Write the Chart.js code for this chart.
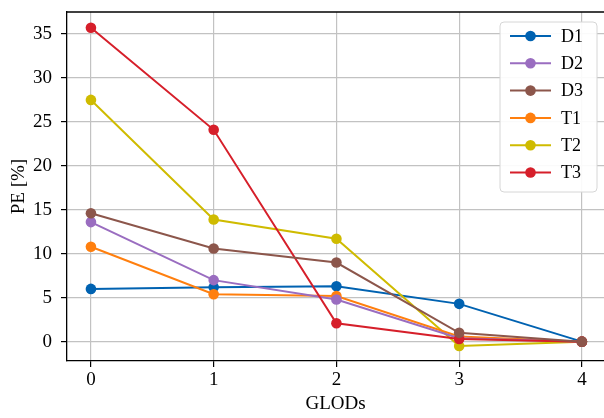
<!DOCTYPE html>
<html>
<head>
<meta charset="utf-8">
<script src="https://cdn.jsdelivr.net/npm/chart.js@4"></script>
<style>
  html, body { margin: 0; padding: 0; background: #fff; }
  #wrap { width: 604px; height: 418px; }
</style>
</head>
<body>
<div id="wrap"><canvas id="pe-chart" width="604" height="418"></canvas></div>
<script>
// GLOD count on the x axis
const glods = [0, 1, 2, 3, 4];

// PE [%] per series
const D1 = [6.0, 6.2, 6.3, 4.3, 0];
const D2 = [13.6, 7.0, 4.8, 0.4, 0];
const D3 = [14.6, 10.6, 9.0, 1.0, 0];
const T1 = [10.8, 5.4, 5.2, 0.6, 0];
const T2 = [27.5, 13.9, 11.7, -0.5, 0];
const T3 = [35.7, 24.1, 2.1, 0.3, 0];

const seriesNames = ['D1', 'D2', 'D3', 'T1', 'T2', 'T3'];
const seriesValues = [D1, D2, D3, T1, T2, T3];
const seriesColors = ['#0062b1', '#9a6dc0', '#8c564b', '#ff7f0e', '#cfbb00', '#d61f2a'];
// lower order is drawn on top
const seriesOrder = [5, 2, 0, 3, 4, 1];

const xTicks = [0, 1, 2, 3, 4];
const yTicks = [0, 5, 10, 15, 20, 25, 30, 35];

const FONT = "'Liberation Serif', 'Times New Roman', serif";

const datasets = seriesNames.map((name, i) => ({
  label: name,
  data: glods.map((g, j) => ({ x: g, y: seriesValues[i][j] })),
  borderColor: seriesColors[i],
  backgroundColor: seriesColors[i],
  borderWidth: 2,
  pointRadius: 5.3,
  pointHoverRadius: 5.3,
  pointBorderWidth: 0,
  order: seriesOrder[i],
  tension: 0
}));

// top spine + boxed legend with line-and-marker samples
const framePlugin = {
  id: 'frame',
  afterDraw(chart) {
    const ctx = chart.ctx;
    const area = chart.chartArea;
    ctx.save();
    ctx.strokeStyle = '#000';
    ctx.lineWidth = 1.3;
    ctx.beginPath();
    ctx.moveTo(area.left, area.top);
    ctx.lineTo(area.right, area.top);
    ctx.stroke();

    // legend box
    const bx = 500, by = 22, bw = 97, bh = 170, r = 4;
    ctx.beginPath();
    ctx.moveTo(bx + r, by);
    ctx.arcTo(bx + bw, by, bx + bw, by + bh, r);
    ctx.arcTo(bx + bw, by + bh, bx, by + bh, r);
    ctx.arcTo(bx, by + bh, bx, by, r);
    ctx.arcTo(bx, by, bx + bw, by, r);
    ctx.closePath();
    ctx.fillStyle = 'rgba(255,255,255,0.92)';
    ctx.fill();
    ctx.strokeStyle = '#d6d6d6';
    ctx.lineWidth = 1;
    ctx.stroke();

    chart.data.datasets.forEach((ds, i) => {
      const cy = 36 + i * 27.3;
      ctx.strokeStyle = ds.borderColor;
      ctx.lineWidth = 2;
      ctx.beginPath();
      ctx.moveTo(510, cy);
      ctx.lineTo(551, cy);
      ctx.stroke();
      ctx.fillStyle = ds.borderColor;
      ctx.beginPath();
      ctx.arc(530.5, cy, 5.3, 0, Math.PI * 2);
      ctx.fill();
      ctx.fillStyle = '#000';
      ctx.font = '18px ' + FONT;
      ctx.textAlign = 'left';
      ctx.textBaseline = 'middle';
      ctx.fillText(ds.label, 561, cy + 1);
    });
    ctx.restore();
  }
};

function noPad(s) {
  s.paddingTop = 0;
  s.paddingBottom = 0;
  s.paddingLeft = 0;
  s.paddingRight = 0;
}

const ctx = document.getElementById('pe-chart').getContext('2d');

new Chart(ctx, {
  type: 'line',
  data: { datasets: datasets },
  plugins: [framePlugin],
  options: {
    responsive: false,
    animation: false,
    events: [],
    layout: { autoPadding: false, padding: { top: 12, right: 0, left: 0, bottom: 0 } },
    plugins: {
      legend: { display: false },
      tooltip: { enabled: false }
    },
    scales: {
      x: {
        type: 'linear',
        min: -0.195,
        max: 4.18,
        afterBuildTicks: s => { s.ticks = xTicks.map(v => ({ value: v })); },
        afterFit: s => { s.height = 57; noPad(s); },
        grid: { color: '#c2c2c2', lineWidth: 1.2, tickColor: '#000', tickLength: 6 },
        border: { color: '#000', width: 1.3 },
        ticks: { color: '#000', font: { family: FONT, size: 19 }, padding: 2, maxRotation: 0 },
        title: { display: true, text: 'GLODs', color: '#000', font: { family: FONT, size: 19 }, padding: { top: 0, bottom: 3 } }
      },
      y: {
        type: 'linear',
        min: -2.2,
        max: 37.5,
        afterBuildTicks: s => { s.ticks = yTicks.map(v => ({ value: v })); },
        afterFit: s => { s.width = 67; noPad(s); },
        grid: { color: '#c2c2c2', lineWidth: 1.2, tickColor: '#000', tickLength: 6 },
        border: { color: '#000', width: 1.3 },
        ticks: { color: '#000', font: { family: FONT, size: 19 }, padding: 9 },
        title: { display: true, text: 'PE [%]', color: '#000', font: { family: FONT, size: 19 }, padding: { top: 8, bottom: 0 } }
      }
    }
  }
});
</script>
</body>
</html>
